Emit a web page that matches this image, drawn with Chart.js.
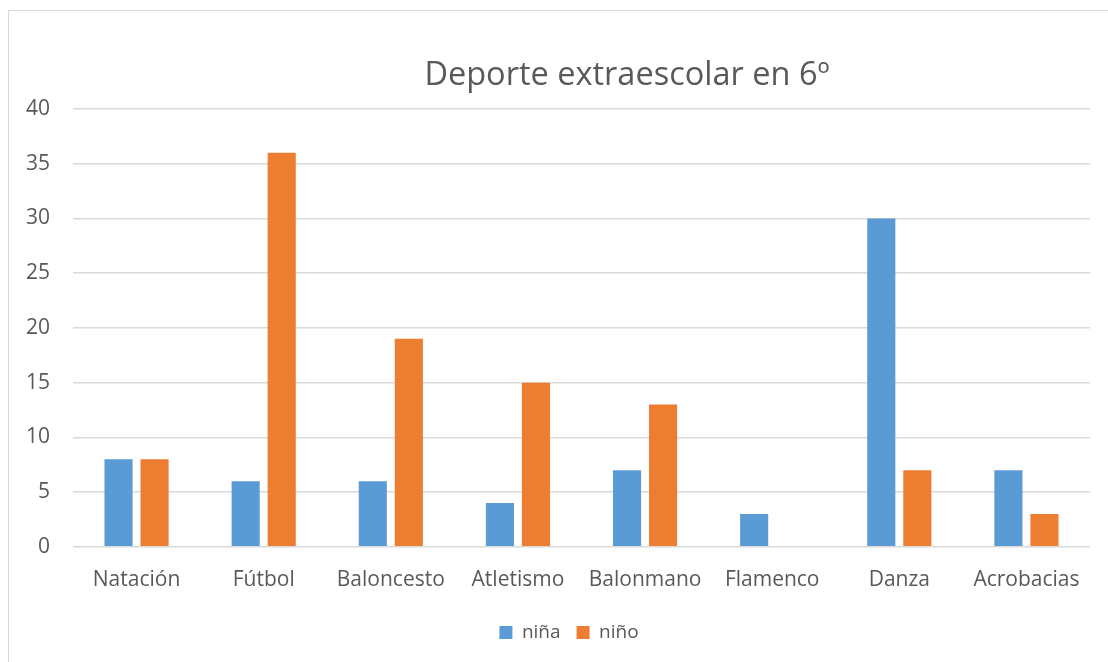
<!DOCTYPE html>
<html><head><meta charset="utf-8">
<script src="https://cdn.jsdelivr.net/npm/chart.js@4"></script>
<style>
html,body{margin:0;padding:0;background:#fff;overflow:hidden}
#wrap{position:absolute;left:0;top:0;width:1108px;height:662px}
#frame{position:absolute;left:8px;top:10px;width:1200px;height:700px;border:1px solid #D9D9D9;box-sizing:border-box}
canvas{position:absolute;left:0;top:0}
</style></head>
<body>
<div id="wrap"><div id="frame"></div><canvas id="c" width="1108" height="662"></canvas></div>
<script>
const categories = ["Natación","Fútbol","Baloncesto","Atletismo","Balonmano","Flamenco","Danza","Acrobacias"];
const nina = [8,6,6,4,7,3,30,7];
const nino = [8,36,19,15,13,0,7,3];
const seriesNames = ["niña","niño"];
const titleText = "Deporte extraescolar en 6º";
const FONT = "'Open Sans', sans-serif";
const TXT = "#595959";

// The original chart frame is wider than the visible window, so title and legend are offset.
const shiftBlocks = {
  id: 'shiftBlocks',
  afterLayout(chart) {
    if (chart.titleBlock) { chart.titleBlock.left += 82; chart.titleBlock.right += 82; }
    if (chart.legend) { chart.legend.left += 24; chart.legend.right += 24; }
  }
};

new Chart(document.getElementById('c'), {
  type: 'bar',
  data: {
    labels: categories,
    datasets: [
      {label: seriesNames[0], data: nina, backgroundColor: '#5B9BD5', borderWidth: 0},
      {label: seriesNames[1], data: nino, backgroundColor: '#ED7D31', borderWidth: 0}
    ]
  },
  plugins: [shiftBlocks],
  options: {
    responsive: false,
    animation: false,
    devicePixelRatio: 1,
    layout: {padding: {left: 0, right: 18, top: 56, bottom: 10}},
    datasets: {bar: {categoryPercentage: 0.567, barPercentage: 0.78}},
    plugins: {
      title: {display: true, text: titleText, color: TXT,
        font: {family: FONT, size: 32.5, weight: 'normal'}, padding: {top: 0, bottom: 14}},
      legend: {position: 'bottom', labels: {color: TXT, font: {family: FONT, size: 19},
        boxWidth: 13, boxHeight: 13, padding: 16}},
      tooltip: {enabled: false}
    },
    scales: {
      x: {
        afterFit: s => { s.height += 1; },
        grid: {display: false},
        border: {display: false},
        ticks: {color: TXT, font: {family: FONT, size: 21}, padding: 13, maxRotation: 0}
      },
      y: {
        min: 0, max: 40,
        afterFit: s => { s.width = 73; },
        grid: {color: '#D9D9D9', lineWidth: 1.5, drawTicks: false},
        border: {display: false},
        ticks: {stepSize: 5, color: TXT, font: {family: FONT, size: 21}, padding: 23}
      }
    }
  }
});
</script>
</body></html>
